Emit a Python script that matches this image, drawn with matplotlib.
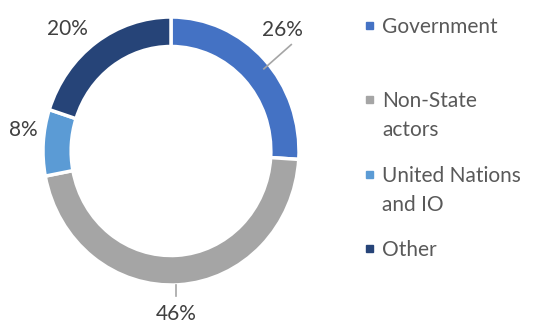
import numpy as np
import matplotlib
matplotlib.use("Agg")
import matplotlib.pyplot as plt
from matplotlib.patches import Rectangle

categories = ["Government", "Non-State\nactors", "United Nations\nand IO", "Other"]
shares = [26, 46, 8, 20]
colors = ["#4472C4", "#A5A5A5", "#5B9BD5", "#264478"]

plt.rcParams["font.family"] = ["Lato", "DejaVu Sans"]

W, H, DPI = 547, 325, 100
fig = plt.figure(figsize=(W / DPI, H / DPI), dpi=DPI)

# donut axes, placed in pixel units
cx0, cx1, cy_top, cy_bot = 43, 299, 17, 285
ax = fig.add_axes([cx0 / W, (H - cy_bot) / H, (cx1 - cx0) / W, (cy_bot - cy_top) / H])

wedges, _ = ax.pie(shares, colors=colors, startangle=90, counterclock=False,
                   radius=1.0, wedgeprops=dict(width=0.22, edgecolor="white", linewidth=2.5))
ax.set_xlim(-1, 1)
ax.set_ylim(-1, 1)
ax.set_aspect("auto")
ax.axis("off")

label_color = "#404040"
# label placement per slice: radius along the mid angle plus a small nudge
label_r = [1.25, 1.22, 1.16, 1.2]
label_nudge = [(-0.044, 0.045), (-0.037, 0.0), (0.0, 0.083), (-0.10, -0.064)]
label_pos = []
for w, v, r, (nx, ny) in zip(wedges, shares, label_r, label_nudge):
    mid = np.deg2rad((w.theta1 + w.theta2) / 2)
    x, y = r * np.cos(mid) + nx, r * np.sin(mid) + ny
    label_pos.append((x, y))
    ax.text(x, y, f"{v}%", ha="center", va="center", fontsize=15,
            color=label_color, clip_on=False)

leader = dict(color="#A5A5A5", lw=1.2, clip_on=False)
# Government: short radial leader crossing the ring
w = wedges[0]
a = np.deg2rad((w.theta1 + w.theta2) / 2 - 3)
ax.plot([0.95 * np.cos(a), 1.23 * np.cos(a)], [0.95 * np.sin(a), 1.23 * np.sin(a)], **leader)
# Non-State actors: vertical tick from the ring down to the label
lx = label_pos[1][0]
ax.plot([lx, lx], [-np.sqrt(1 - lx ** 2), -1.08], **leader)

# legend drawn as squares and text, in pixel coordinates
legend_y = [25, 99, 174, 248]
line_step = 29
for cat, col, y in zip(categories, colors, legend_y):
    fig.patches.append(Rectangle((366 / W, (H - y - 3.5) / H), 7 / W, 7 / H,
                                 transform=fig.transFigure, color=col))
    for k, line in enumerate(cat.split("\n")):
        fig.text(382 / W, (H - y - k * line_step) / H, line, ha="left",
                 va="center_baseline", fontsize=15, color="#595959")

fig.savefig("out.png", dpi=DPI)
